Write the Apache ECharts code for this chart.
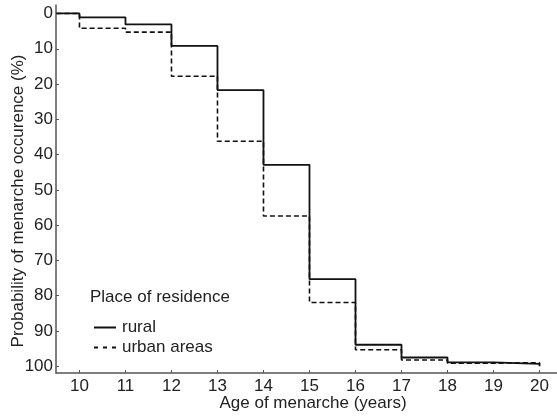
<!DOCTYPE html>
<html><head><meta charset="utf-8">
<script src="https://cdn.jsdelivr.net/npm/echarts@6/dist/echarts.min.js"></script>
<style>html,body{margin:0;padding:0;background:#fff}#c{width:557px;height:417px}</style>
</head><body><div id="c"></div>
<script>
var ages = [9.5, 10, 11, 12, 13, 14, 15, 16, 17, 18, 19, 20];
var rural = [0, 1.1, 3.1, 9.2, 21.7, 42.9, 75.3, 93.9, 97.5, 98.9, 99.3, 100];
var urban = [0, 4.2, 5.3, 17.8, 36.2, 57.4, 81.9, 95.3, 98.2, 99.1, 99.0, 99.4];
var xTicks = [10, 11, 12, 13, 14, 15, 16, 17, 18, 19, 20];
var yTicks = [0, 10, 20, 30, 40, 50, 60, 70, 80, 90, 100];

function pairs(xs, ys){ return xs.map(function(x,i){ return [x, ys[i]]; }); }
var font = '"Liberation Sans", Arial, sans-serif';
var fs = 17;
var chart = echarts.init(document.getElementById('c'), null, {renderer:'canvas'});
chart.setOption({
  animation:false,
  backgroundColor:'#fff',
  textStyle:{fontFamily:font},
  title:{text:'Place of residence', left:90, top:289, padding:0,
    textStyle:{fontFamily:font, fontSize:fs, fontWeight:'normal', color:'#222'}},
  legend:{orient:'vertical', left:94, top:319, padding:0, itemWidth:22, itemHeight:2, itemGap:3,
    textStyle:{fontFamily:font, fontSize:fs, color:'#222', padding:[0,0,0,1]},
    data:[
      {name:'rural', icon:'path://M0,0h22v2h-22z'},
      {name:'urban areas', icon:'path://M0,0h4v2h-4z M9,0h4v2h-4z M18,0h4v2h-4z'}
    ]},
  grid:{left:56, right:0, top:5, bottom:44, containLabel:false, outerBoundsMode:'none'},
  xAxis:{type:'value', min:9.49, max:20.38,
    name:'Age of menarche (years)', nameLocation:'middle', nameGap:22, nameMoveOverlap:false,
    nameTextStyle:{fontFamily:font, fontSize:fs, color:'#222', padding:[0,0,0,13]},
    axisLine:{onZero:false, lineStyle:{color:'#555', width:1.5}},
    axisTick:{inside:true, length:3, customValues:xTicks, lineStyle:{color:'#555'}},
    axisLabel:{customValues:xTicks, fontFamily:font, fontSize:fs, color:'#222', margin:5},
    splitLine:{show:false}},
  yAxis:{type:'value', inverse:true, min:-2.4, max:101.9,
    name:'Probability of menarche occurence (%)', nameLocation:'middle', nameGap:29, nameMoveOverlap:false,
    nameTextStyle:{fontFamily:font, fontSize:fs, color:'#222', padding:[0,24,0,0]},
    axisLine:{show:true, onZero:false, lineStyle:{color:'#555', width:1.5}},
    axisTick:{show:true, inside:true, length:3, customValues:yTicks, lineStyle:{color:'#555'}},
    axisLabel:{customValues:yTicks, fontFamily:font, fontSize:fs, color:'#222', margin:3},
    splitLine:{show:false}},
  series:[
    {name:'rural', type:'line', step:'end', data:pairs(ages, rural), symbol:'none',
      lineStyle:{color:'#111', width:1.8, type:'solid'}, itemStyle:{color:'#111'}},
    {name:'urban areas', type:'line', step:'end', data:pairs(ages, urban), symbol:'none',
      lineStyle:{color:'#111', width:1.6, type:[5,3]}, itemStyle:{color:'#111'}}
  ]
});
</script></body></html>
